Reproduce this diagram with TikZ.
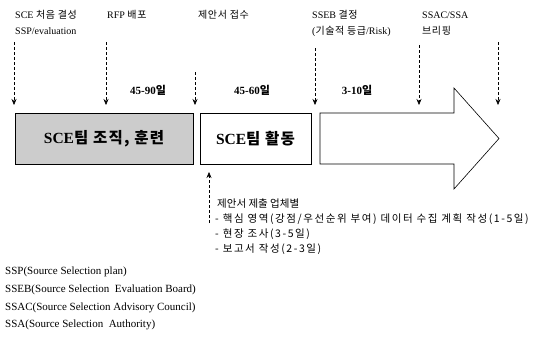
\documentclass[tikz,border=0pt]{standalone}
\usepackage{fontspec}
\setmainfont{Liberation Serif}
\newfontfamily\krfont{Noto Sans CJK KR}
\newfontfamily\krtop[LetterSpace=6]{Noto Sans CJK KR}
\newfontfamily\krnote[LetterSpace=15]{Noto Sans CJK KR}
\newfontfamily\krbox[LetterSpace=8]{Noto Sans CJK KR}
\newcommand\kr[1]{{\krtop #1}}
\usetikzlibrary{arrows.meta}
\begin{document}
\begin{tikzpicture}[x=1pt,y=-1pt,
  toplbl/.style={anchor=north west,inner sep=0pt,align=left,font=\fontsize{10}{16}\selectfont},
  daylbl/.style={inner sep=0pt,font=\bfseries\fontsize{11}{13}\selectfont},
  darr/.style={densely dashed,line width=0.5pt,-{Stealth[length=6pt,width=5pt]}},
  phase/.style={draw=black,line width=0.6pt,minimum height=51pt,inner sep=0pt,font=\krbox\bfseries\fontsize{15.5}{17}\selectfont},
  legend/.style={anchor=west,inner sep=0pt,font=\fontsize{11}{13}\selectfont},
  note/.style={anchor=north west,inner sep=0pt,align=left,font=\krnote\fontsize{10.5}{15}\selectfont}]
\useasboundingbox (0,0) rectangle (550,340);

% top labels
\node[toplbl] (l1) at (15,10) {SCE \kr{처음 결성}\\SSP/evaluation};
\node[toplbl] (l2) at (107,10) {RFP \kr{배포}};
\node[toplbl] (l3) at (198,10) {\kr{제안서 접수}};
\node[toplbl] (l4) at (312,10) {SSEB \kr{결정}\\(\kr{기술적 등급}/Risk)};
\node[toplbl] (l5) at (422,12) {SSAC/SSA\\\kr{브리핑}};

% dashed arrows from top
\coordinate (a1s) at (14,42);  \coordinate (a1e) at (14,105);
\coordinate (a2s) at (106,42); \coordinate (a2e) at (106,105);
\coordinate (a3s) at (195,72); \coordinate (a3e) at (195,105);
\coordinate (a4s) at (315,48); \coordinate (a4e) at (315,105);
\coordinate (a5s) at (419,45); \coordinate (a5e) at (419,105);
\coordinate (a6s) at (498,42); \coordinate (a6e) at (498,105);
\foreach \i in {1,...,6} \draw[darr] (a\i s) -- (a\i e);

% day labels
\node[daylbl] (d1) at (148,90) {45-90\kr{일}};
\node[daylbl] (d2) at (252,90) {45-60\kr{일}};
\node[daylbl] (d3) at (357,90) {3-10\kr{일}};

% phase boxes
\node[phase,fill=gray!40,minimum width=178pt] (b1) at (104,138.5) {{\rmfamily SCE}팀 조직, 훈련};
\node[phase,fill=white,minimum width=111pt] (b2) at (255.5,138.5) {{\rmfamily SCE}팀 활동};

% big arrow
\draw[line width=0.6pt] (320,113) -- (454,113) -- (454,88) -- (499,138.5) -- (454,189) -- (454,164) -- (320,164) -- cycle;

% upward arrow to box 2
\coordinate (ups) at (209,223);
\coordinate (upe) at (209,172);
\draw[darr] (ups) -- (upe);

% notes
\node[note,font=\krfont\fontsize{10.5}{15}\selectfont] (n0) at (217,199) {제안서 제출 업체별};
\node[note] (n1) at (215,214) {- 핵심 영역(강점/우선순위 부여) 데이터 수집 계획 작성(1-5일)\\
- 현장 조사(3-5일)\\
- 보고서 작성(2-3일)};

% legend
\node[legend] (g1) at (5,272) {SSP(Source Selection plan)};
\node[legend] (g2) at (5,290) {SSEB(Source Selection\ \ Evaluation Board)};
\node[legend] (g3) at (5,308) {SSAC(Source Selection Advisory Council)};
\node[legend] (g4) at (5,325) {SSA(Source Selection\ \ Authority)};
\end{tikzpicture}
\end{document}
